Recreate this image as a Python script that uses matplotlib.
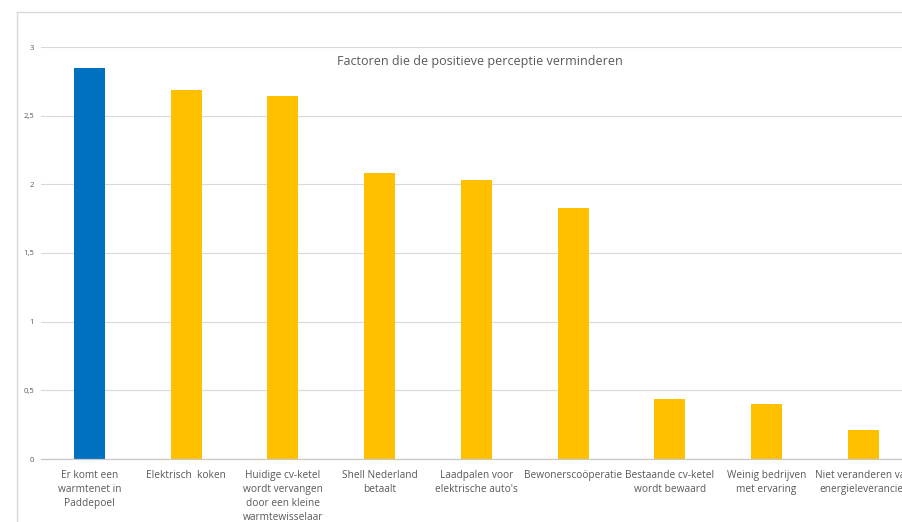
import matplotlib
matplotlib.use("Agg")
import matplotlib.pyplot as plt
from matplotlib.lines import Line2D

categories = [
    "Er komt een\nwarmtenet in\nPaddepoel",
    "Elektrisch  koken",
    "Huidige cv-ketel\nwordt vervangen\ndoor een kleine\nwarmtewisselaar",
    "Shell Nederland\nbetaalt",
    "Laadpalen voor\nelektrische auto's",
    "Bewonerscoöperatie",
    "Bestaande cv-ketel\nwordt bewaard",
    "Weinig bedrijven\nmet ervaring",
    "Niet veranderen van\nenergieleverancier",
]
values = [2.85, 2.69, 2.64, 2.08, 2.03, 1.83, 0.44, 0.40, 0.21]
colors = ["#0070C0"] + ["#FFC000"] * 8
yticks = [0, 0.5, 1, 1.5, 2, 2.5, 3]
ytick_labels = ["0", "0,5", "1", "1,5", "2", "2,5", "3"]
title = "Factoren die de positieve perceptie verminderen"

plt.rcParams['font.family'] = ['Open Sans', 'DejaVu Sans']
W, H = 903, 522
fig = plt.figure(figsize=(W / 100, H / 100), dpi=100)
ax = fig.add_axes([41 / W, (H - 459) / H, (911.6 - 41) / W, (459 - 47) / H])

x = list(range(len(categories)))
ax.bar(x, values, width=0.32, color=colors, zorder=3)
ax.set_xlim(-0.5, len(categories) - 0.5)
ax.set_ylim(0, 3)
ax.set_yticks(yticks)
ax.set_yticklabels(ytick_labels, fontsize=5.5, color="#595959")
ax.set_xticks(x)
ax.set_xticklabels(categories, fontsize=7.3, color="#595959", linespacing=1.35, va="top")
ax.tick_params(axis="both", length=0)
ax.tick_params(axis="y", pad=5)
ax.tick_params(axis="x", pad=8)
ax.grid(axis="y", color="#D9D9D9", linewidth=0.8, zorder=0)
for s in ["top", "right", "left"]:
    ax.spines[s].set_visible(False)
ax.spines["bottom"].set_color("#C8C8C8")
ax.spines["bottom"].set_linewidth(0.9)
ax.spines["bottom"].set_zorder(4)

fig.text(480 / W, 1 - 62 / H, title, ha="center", va="center", fontsize=9, color="#595959")

# outer chart frame
fig.add_artist(Line2D([17 / W, 1], [1 - 11.5 / H, 1 - 11.5 / H], transform=fig.transFigure,
                      color="#D9D9D9", linewidth=1))
fig.add_artist(Line2D([17.5 / W, 17.5 / W], [0, 1 - 11.5 / H], transform=fig.transFigure,
                      color="#D9D9D9", linewidth=1))

fig.savefig("out.png", dpi=100)
